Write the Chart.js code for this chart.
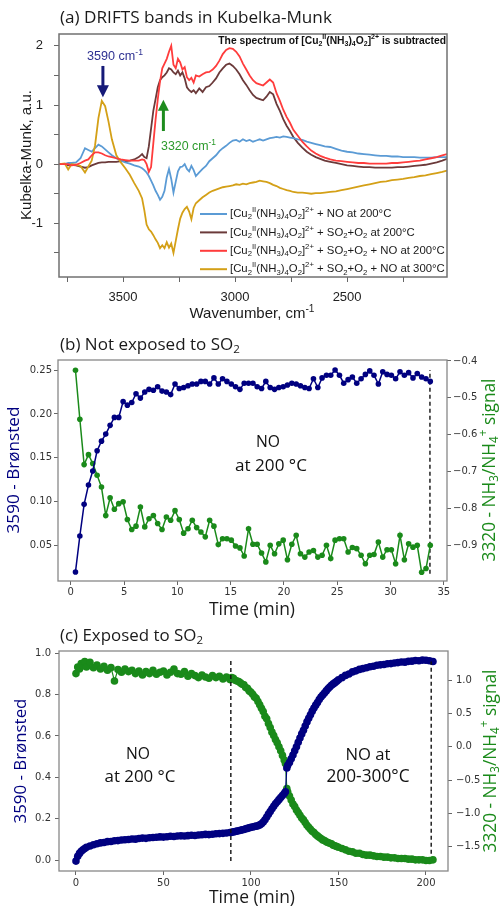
<!DOCTYPE html>
<html><head><meta charset="utf-8">
<script src="https://cdn.jsdelivr.net/npm/chart.js@4.4.1/dist/chart.umd.min.js"></script>
<style>html,body{margin:0;padding:0;background:#fff}#wrap{position:relative;width:500px;height:908px;overflow:hidden;background:#fff}canvas{position:absolute;left:0}</style>
</head><body><div id="wrap">
<canvas id="cA" width="500" height="325" style="top:0;width:500px;height:325px"></canvas>
<canvas id="cB" width="500" height="300" style="top:325px;width:500px;height:300px"></canvas>
<canvas id="cC" width="500" height="283" style="top:625px;width:500px;height:283px"></canvas>
</div>
<script>
// ---------- Panel (a): DRIFTS spectra (Kubelka-Munk) ----------
const wavenumber = [3786,3760,3745,3730,3710,3690,3670,3655,3640,3625,3610,3595,3580,3565,3550,3530,3510,3490,3470,3450,3430,3415,3405,3395,3385,3375,3365,3355,3345,3335,3325,3315,3305,3295,3285,3275,3265,3255,3245,3235,3225,3215,3205,3195,3185,3175,3160,3145,3130,3115,3100,3085,3070,3055,3040,3025,3010,2995,2980,2965,2950,2935,2920,2905,2890,2875,2860,2845,2830,2815,2800,2785,2770,2755,2740,2720,2700,2680,2660,2640,2620,2600,2575,2550,2525,2500,2475,2450,2425,2400,2375,2350,2325,2300,2275,2250,2225,2200,2175,2150,2125,2100,2075,2054];
const kmNO200 = [0.00,0.00,0.02,0.02,0.03,0.10,0.27,0.24,0.21,0.27,0.33,0.30,0.25,0.20,0.15,0.10,0.06,0.03,0.01,-0.02,-0.04,-0.07,-0.10,-0.14,-0.20,-0.28,-0.36,-0.45,-0.52,-0.60,-0.55,-0.45,-0.22,-0.08,-0.25,-0.48,-0.30,-0.12,-0.05,-0.04,0.00,-0.08,-0.12,-0.03,-0.10,-0.20,-0.14,-0.08,-0.03,0.05,0.10,0.15,0.22,0.27,0.31,0.36,0.40,0.41,0.38,0.42,0.39,0.41,0.38,0.40,0.42,0.40,0.42,0.44,0.45,0.46,0.45,0.47,0.46,0.45,0.44,0.42,0.41,0.38,0.36,0.34,0.32,0.30,0.29,0.26,0.23,0.21,0.20,0.18,0.17,0.16,0.15,0.14,0.14,0.13,0.13,0.12,0.12,0.12,0.11,0.11,0.11,0.12,0.12,0.12];
const kmSO2O2_200 = [0.00,0.00,-0.02,-0.01,-0.02,-0.04,-0.06,-0.05,-0.02,0.00,0.02,0.03,0.03,0.04,0.04,0.04,0.05,0.05,0.06,0.08,0.12,0.17,0.12,0.10,0.30,0.60,0.90,1.10,1.30,1.42,1.47,1.50,1.55,1.62,1.60,1.55,1.52,1.58,1.50,1.55,1.45,1.30,1.25,1.22,1.25,1.20,1.28,1.22,1.30,1.32,1.38,1.45,1.55,1.62,1.68,1.70,1.66,1.60,1.52,1.42,1.34,1.25,1.17,1.12,1.10,1.08,1.14,1.22,1.18,1.02,0.90,0.76,0.65,0.56,0.46,0.36,0.28,0.21,0.16,0.12,0.09,0.06,0.04,0.02,0.00,-0.02,-0.03,-0.04,-0.05,-0.05,-0.06,-0.06,-0.06,-0.06,-0.05,-0.05,-0.04,-0.03,-0.02,-0.01,0.01,0.03,0.06,0.09];
const kmSO2O2NO200 = [0.00,0.00,0.00,-0.02,-0.01,0.02,0.06,0.08,0.15,0.20,0.20,0.18,0.15,0.13,0.12,0.10,0.08,0.07,0.06,0.06,0.06,0.08,0.07,0.00,-0.13,-0.05,0.35,0.75,1.10,1.40,1.62,1.70,1.78,1.90,2.00,1.68,1.62,1.78,1.72,1.60,1.64,1.47,1.42,1.46,1.38,1.50,1.48,1.52,1.55,1.56,1.60,1.66,1.75,1.86,1.93,1.96,1.95,1.90,1.82,1.70,1.60,1.50,1.42,1.37,1.35,1.33,1.38,1.43,1.38,1.20,1.07,0.92,0.80,0.70,0.58,0.48,0.38,0.30,0.23,0.18,0.14,0.11,0.08,0.06,0.05,0.04,0.03,0.02,0.02,0.01,0.01,0.01,0.01,0.02,0.02,0.03,0.04,0.05,0.06,0.08,0.10,0.12,0.15,0.17];
const kmSO2O2NO300 = [0.00,0.01,-0.09,0.00,-0.01,-0.03,-0.14,-0.04,0.06,0.32,0.78,1.07,0.98,0.72,0.42,0.15,0.03,-0.07,-0.18,-0.32,-0.45,-0.58,-0.78,-1.02,-1.10,-1.14,-1.20,-1.27,-1.33,-1.42,-1.37,-1.42,-1.32,-1.41,-1.34,-1.50,-1.30,-1.10,-0.92,-0.82,-0.76,-0.72,-0.80,-0.93,-0.74,-0.66,-0.61,-0.56,-0.52,-0.48,-0.45,-0.43,-0.41,-0.39,-0.38,-0.37,-0.36,-0.34,-0.35,-0.33,-0.34,-0.32,-0.31,-0.30,-0.28,-0.29,-0.30,-0.32,-0.35,-0.37,-0.40,-0.42,-0.44,-0.45,-0.47,-0.48,-0.48,-0.49,-0.50,-0.49,-0.49,-0.48,-0.47,-0.46,-0.44,-0.42,-0.40,-0.38,-0.36,-0.34,-0.32,-0.30,-0.29,-0.27,-0.26,-0.25,-0.23,-0.22,-0.20,-0.19,-0.17,-0.15,-0.13,-0.11];
const spectrumLabels = ['[Cu₂ᴵᴵ(NH₃)₄O₂]²⁺ + NO at 200°C','[Cu₂ᴵᴵ(NH₃)₄O₂]²⁺ + SO₂+O₂ at 200°C','[Cu₂ᴵᴵ(NH₃)₄O₂]²⁺ + SO₂+O₂ + NO at 200°C','[Cu₂ᴵᴵ(NH₃)₄O₂]²⁺ + SO₂+O₂ + NO at 300°C'];
const wnTicks = [3750,3500,3250,3000,2750,2500,2250];
const kmTicks = [-1.5,-1,-0.5,0,0.5,1,1.5,2];
const bandMarks = [{wn:3590, from:1.66, to:1.13, label:'3590 cm⁻¹'},{wn:3320, from:0.56, to:1.09, label:'3320 cm⁻¹'}];

// ---------- Panel (b): not exposed to SO2 ----------
const timeB = [0.44,0.85,1.25,1.66,2.06,2.47,2.88,3.28,3.69,4.09,4.50,4.91,5.31,5.72,6.12,6.53,6.94,7.34,7.75,8.15,8.56,8.97,9.37,9.78,10.18,10.59,11.00,11.40,11.81,12.21,12.62,13.03,13.43,13.84,14.24,14.65,15.06,15.46,15.87,16.27,16.68,17.09,17.49,17.90,18.30,18.71,19.12,19.52,19.93,20.33,20.74,21.15,21.55,21.96,22.36,22.77,23.18,23.58,23.99,24.39,24.80,25.21,25.61,26.02,26.42,26.83,27.24,27.64,28.05,28.45,28.86,29.27,29.67,30.08,30.48,30.89,31.30,31.70,32.11,32.51,32.92,33.33,33.73];
const bronstedB = [0.020,0.061,0.097,0.119,0.135,0.158,0.169,0.177,0.187,0.196,0.196,0.214,0.210,0.213,0.223,0.218,0.225,0.228,0.227,0.231,0.226,0.225,0.222,0.234,0.229,0.230,0.232,0.234,0.234,0.237,0.237,0.234,0.241,0.234,0.240,0.237,0.234,0.231,0.228,0.235,0.235,0.235,0.231,0.229,0.237,0.230,0.228,0.230,0.231,0.233,0.235,0.234,0.232,0.230,0.229,0.240,0.230,0.241,0.244,0.244,0.250,0.244,0.235,0.239,0.242,0.235,0.240,0.245,0.249,0.244,0.234,0.248,0.245,0.244,0.240,0.248,0.244,0.247,0.241,0.246,0.242,0.240,0.237];
const nh3B = [-0.425,-0.558,-0.681,-0.654,-0.678,-0.710,-0.742,-0.819,-0.771,-0.802,-0.787,-0.782,-0.830,-0.857,-0.848,-0.796,-0.850,-0.828,-0.819,-0.841,-0.857,-0.823,-0.832,-0.806,-0.830,-0.867,-0.855,-0.832,-0.852,-0.864,-0.877,-0.832,-0.848,-0.898,-0.882,-0.882,-0.886,-0.902,-0.907,-0.929,-0.855,-0.897,-0.897,-0.921,-0.945,-0.900,-0.923,-0.896,-0.886,-0.939,-0.897,-0.873,-0.923,-0.932,-0.918,-0.914,-0.932,-0.927,-0.900,-0.936,-0.886,-0.882,-0.882,-0.918,-0.906,-0.909,-0.927,-0.950,-0.927,-0.925,-0.891,-0.932,-0.912,-0.912,-0.950,-0.873,-0.939,-0.896,-0.905,-0.900,-0.973,-0.963,-0.900];
const endB = 33.7;
const timeTicksB = [0,5,10,15,20,25,30,35];
const bronTicksB = [0.05,0.10,0.15,0.20,0.25];
const nh3TicksB = [-0.9,-0.8,-0.7,-0.6,-0.5,-0.4];

// ---------- Panel (c): exposed to SO2 ----------
const timeC = [0,1,2,3,4,5,6,
  8,10,12,14,16,18,20,22,24,26,28,30,32,34,36,38,40,42,44,46,48,50,52,54,56,58,60,62,64,66,68,70,72,74,76,78,80,82,84,86,
  88,89,90,91,92,93,94,95,96,97,98,99,100,101,102,103,104,105,106,107,108,109,110,111,112,113,114,115,116,117,118,119,
  119.7,120.5,
  121,122,123,124,125,126,127,128,129,130,131,132,133,134,135,136,137,138,139,140,141,142,143,144,145,146,147,148,149,150,
  152,154,156,158,160,162,164,166,168,170,172,174,176,178,180,182,184,186,188,190,192,194,196,198,200,202,204];
const bronstedC = [-0.005,0.018,0.032,0.042,0.050,0.056,0.062,
  0.068,0.074,0.079,0.083,0.085,0.089,0.090,0.093,0.094,0.097,0.098,0.099,0.102,0.101,0.104,0.106,0.105,0.108,0.109,0.110,0.112,0.111,0.113,0.115,0.114,0.116,0.117,0.116,0.118,0.120,0.119,0.121,0.122,0.124,0.123,0.125,0.127,0.128,0.129,0.131,
  0.133,0.134,0.136,0.138,0.140,0.142,0.144,0.146,0.148,0.151,0.153,0.156,0.158,0.160,0.162,0.164,0.166,0.170,0.175,0.184,0.195,0.208,0.222,0.235,0.248,0.260,0.272,0.282,0.292,0.302,0.312,0.322,
  0.330,0.445,
  0.458,0.472,0.490,0.508,0.528,0.548,0.570,0.590,0.610,0.628,0.648,0.668,0.686,0.703,0.720,0.735,0.749,0.762,0.776,0.788,0.798,0.808,0.818,0.828,0.837,0.845,0.852,0.858,0.865,0.872,
  0.882,0.893,0.900,0.910,0.915,0.922,0.926,0.930,0.935,0.937,0.942,0.944,0.946,0.949,0.950,0.953,0.955,0.958,0.957,0.961,0.962,0.965,0.964,0.967,0.966,0.964,0.960];
const nh3C = [1.10,1.20,1.17,1.25,1.22,1.28,1.20,
  1.27,1.19,1.23,1.17,1.21,1.15,1.19,0.99,1.16,1.12,1.17,1.13,1.15,1.10,1.14,1.08,1.13,1.10,1.15,1.09,1.12,1.14,1.08,1.12,1.17,1.10,1.09,1.13,1.06,1.10,1.07,1.04,1.08,1.05,1.03,1.07,1.04,1.06,1.02,1.05,
  1.01,1.04,1.03,1.00,0.99,0.98,0.96,0.94,0.93,0.89,0.88,0.84,0.82,0.79,0.75,0.73,0.68,0.63,0.58,0.53,0.46,0.42,0.35,0.29,0.22,0.17,0.11,0.06,0.00,-0.06,-0.13,-0.20,
  -0.25,-0.63,
  -0.68,-0.74,-0.80,-0.86,-0.90,-0.95,-0.99,-1.03,-1.07,-1.10,-1.14,-1.18,-1.21,-1.24,-1.27,-1.29,-1.32,-1.34,-1.36,-1.38,-1.40,-1.41,-1.43,-1.44,-1.45,-1.46,-1.48,-1.49,-1.50,-1.51,
  -1.53,-1.55,-1.57,-1.58,-1.60,-1.60,-1.62,-1.63,-1.63,-1.64,-1.65,-1.65,-1.66,-1.66,-1.67,-1.67,-1.68,-1.68,-1.68,-1.69,-1.69,-1.70,-1.70,-1.70,-1.71,-1.71,-1.70];
const switchC = 88.5, endC = 203;
const timeTicksC = [0,50,100,150,200];
const bronTicksC = [0,0.2,0.4,0.6,0.8,1.0];
const nh3TicksC = [-1.5,-1,-0.5,0,0.5,1];

// ---------- helpers ----------
const NAVY = '#000080', GREEN = '#1a8a1a';
const SUB={'₀':'0','₁':'1','₂':'2','₃':'3','₄':'4','₅':'5','₆':'6','₇':'7','₈':'8','₉':'9'};
const SUP={'⁰':'0','¹':'1','²':'2','³':'3','⁴':'4','⁵':'5','⁶':'6','⁷':'7','⁸':'8','⁹':'9','⁺':'+','⁻':'-','ᴵ':'I'};
function segs(t){const o=[];for(const ch of t){let k='n',c=ch;if(SUB[ch]){k='b';c=SUB[ch];}else if(SUP[ch]){k='p';c=SUP[ch];}const l=o[o.length-1];if(l&&l.k===k)l.t+=c;else o.push({k:k,t:c});}return o;}
function fnt(it,sz){return (it.weight||'normal')+' '+sz.toFixed(2)+'px "'+(it.fam||'Liberation Sans')+'"';}
function richWidth(ctx,it,sz){let w=0;for(const s of segs(it.t)){ctx.font=fnt(it,s.k==='n'?sz:sz*0.68);w+=ctx.measureText(s.t).width;}return w;}
function fitSize(ctx,it){return it.w?20*it.w/richWidth(ctx,it,20):(it.size||14);}
function drawRich(ctx,it,off,szOverride){
  const sz=szOverride||fitSize(ctx,it);
  const w=richWidth(ctx,it,sz);
  ctx.save(); ctx.translate(it.x,it.y-off); if(it.rot) ctx.rotate(it.rot);
  let cx=it.align==='center'?-w/2:it.align==='right'?-w:0;
  ctx.fillStyle=it.color||'#111'; ctx.textBaseline='middle'; ctx.textAlign='left';
  for(const s of segs(it.t)){const ss=s.k==='n'?sz:sz*0.68; ctx.font=fnt(it,ss);
    const dy=s.k==='b'?sz*0.28:s.k==='p'?-sz*0.34:0; ctx.fillText(s.t,cx,dy); cx+=ctx.measureText(s.t).width;}
  ctx.restore(); return sz;
}
function frame(chart,color,lw){const a=chart.chartArea,c=chart.ctx;c.save();c.strokeStyle=color;c.lineWidth=lw;c.strokeRect(a.left,a.top,a.right-a.left,a.bottom-a.top);c.restore();}
function arrow(ctx,x,yTail,yTip,color,sw,hw,hl){
  const dir=yTip>yTail?1:-1; ctx.save(); ctx.strokeStyle=color; ctx.fillStyle=color; ctx.lineWidth=sw;
  ctx.beginPath(); ctx.moveTo(x,yTail); ctx.lineTo(x,yTip-dir*hl*0.8); ctx.stroke();
  ctx.beginPath(); ctx.moveTo(x,yTip); ctx.lineTo(x-hw/2,yTip-dir*hl); ctx.lineTo(x+hw/2,yTip-dir*hl); ctx.closePath(); ctx.fill(); ctx.restore();
}
const minusFmt=(v,d)=>(v<0?'\u2212':'')+Math.abs(v).toFixed(d);
function setTicks(list){return s=>{s.ticks=list.map(v=>({value:v}));};}
const gridA={drawOnChartArea:false,drawTicks:true,tickLength:5,color:'#666',tickColor:'#666',tickWidth:1};
const gridBC={drawOnChartArea:false,drawTicks:true,tickLength:4,color:'#666',tickColor:'#666',tickWidth:1};
const tickFontA={family:'"Liberation Sans", Arial, sans-serif',size:13};
const tickFontBC={family:'"DejaVu Sans", sans-serif',size:10};
const base={animation:false,responsive:false,maintainAspectRatio:false,plugins:{legend:{display:false},tooltip:{enabled:false}}};

// ---------- Chart A ----------
const specColors=['#5b9bd5','#6b3a3a','#ff3c3c','#d4a017'];
const specValues=[kmNO200,kmSO2O2_200,kmSO2O2NO200,kmSO2O2NO300];
const specOrder=[2,3,0,1];
const textsA=[
  {t:'(a) DRIFTS bands in Kubelka-Munk',x:60,y:18,w:272,fam:'Open Sans',color:'#1a1a1a'},
  {t:'The spectrum of [Cu₂ᴵᴵ(NH₃)₄O₂]²⁺ is subtracted',x:446,y:41,align:'right',w:228,weight:'bold',color:'#111'},
  {t:bandMarks[0].label,x:87,y:57,w:56,color:'#2e3192'},
  {t:bandMarks[1].label,x:161,y:147,w:55,color:'#2a9a2a'},
  {t:'Kubelka-Munk, a.u.',x:27,y:155,align:'center',w:130,rot:-Math.PI/2,color:'#1a1a1a'},
  {t:'Wavenumber, cm⁻¹',x:252,y:314,align:'center',w:125,color:'#1a1a1a'}
];
new Chart(document.getElementById('cA'),{type:'line',
  data:{datasets:spectrumLabels.map((lab,i)=>({label:lab,data:wavenumber.map((w,j)=>({x:w,y:specValues[i][j]})),borderColor:specColors[i],backgroundColor:specColors[i],borderWidth:1.8,pointRadius:0,tension:0,order:specOrder[i]}))},
  options:Object.assign({},base,{
    layout:{padding:{left:0,top:34,right:53,bottom:0}},
    scales:{
      x:{type:'linear',reverse:true,min:2054,max:3786,afterBuildTicks:setTicks(wnTicks),
         ticks:{font:tickFontA,color:'#222',padding:8,autoSkip:false,maxRotation:0,callback:v=>v%500===0?String(v):''},
         grid:gridA,border:{display:false},afterFit:s=>{s.height=48;}},
      y:{type:'linear',min:-1.907,max:2.2,afterBuildTicks:setTicks(kmTicks),
         ticks:{font:tickFontA,color:'#222',padding:11,autoSkip:false,callback:v=>Number.isInteger(v)?String(v):''},
         grid:gridA,border:{display:false},afterFit:s=>{s.width=59;}}
    }}),
  plugins:[{id:'decorA',afterDraw(chart){
    const ctx=chart.ctx,xs=chart.scales.x,ys=chart.scales.y;
    frame(chart,'#707070',1.5);
    textsA.forEach(it=>drawRich(ctx,it,0));
    const a0=bandMarks[0],a1=bandMarks[1];
    arrow(ctx,xs.getPixelForValue(a0.wn),ys.getPixelForValue(a0.from),ys.getPixelForValue(a0.to),'#161a78',3,12,12);
    arrow(ctx,xs.getPixelForValue(a1.wn),ys.getPixelForValue(a1.from),ys.getPixelForValue(a1.to),'#1e8c1e',3,11,11);
    const lsz=fitSize(ctx,{t:spectrumLabels[2],w:215});
    spectrumLabels.forEach((lab,i)=>{const y=214+i*18.4;
      ctx.save();ctx.strokeStyle=specColors[i];ctx.lineWidth=2;ctx.beginPath();ctx.moveTo(200,y);ctx.lineTo(227,y);ctx.stroke();ctx.restore();
      drawRich(ctx,{t:lab,x:230,y:y,color:'#1a1a1a'},0,lsz);});
  }}]
});

// ---------- Chart B ----------
const textsB=[
  {t:'(b) Not exposed to SO₂',x:60,y:345,w:180,fam:'Open Sans',color:'#1a1a1a'},
  {t:'NO',x:268,y:443,align:'center',w:24,fam:'Open Sans',color:'#111'},
  {t:'at 200 °C',x:271,y:466,align:'center',w:72,fam:'Open Sans',color:'#111'},
  {t:'3590 - Brønsted',x:14,y:470,align:'center',w:127,rot:-Math.PI/2,fam:'Open Sans',color:NAVY},
  {t:'3320 - NH₃/NH₄⁺ signal',x:490,y:470,align:'center',w:183,rot:-Math.PI/2,fam:'Open Sans',color:GREEN},
  {t:'Time (min)',x:252,y:610,align:'center',w:86,fam:'Open Sans',color:'#1a1a1a'}
];
new Chart(document.getElementById('cB'),{type:'line',
  data:{datasets:[
    {label:'3590 - Brønsted',data:timeB.map((t,i)=>({x:t,y:bronstedB[i]})),yAxisID:'yL',borderColor:NAVY,backgroundColor:NAVY,borderWidth:1.5,pointRadius:2.8,pointBorderWidth:0,pointBackgroundColor:NAVY},
    {label:'3320 - NH₃/NH₄⁺ signal',data:timeB.map((t,i)=>({x:t,y:nh3B[i]})),yAxisID:'yR',borderColor:GREEN,backgroundColor:GREEN,borderWidth:1.5,pointRadius:2.8,pointBorderWidth:0,pointBackgroundColor:GREEN},
    {label:'end',data:[{x:endB,y:0.018},{x:endB,y:0.25}],yAxisID:'yL',borderColor:'#111',borderWidth:1.4,borderDash:[4,3],pointRadius:0}
  ]},
  options:Object.assign({},base,{
    layout:{padding:{left:0,top:35,right:0,bottom:0}},
    scales:{
      x:{type:'linear',min:-1.2,max:35.3,afterBuildTicks:setTicks(timeTicksB),
         ticks:{font:tickFontBC,color:'#333',padding:1,autoSkip:false,maxRotation:0,callback:v=>String(v)},
         grid:gridBC,border:{display:false},afterFit:s=>{s.height=44;}},
      yL:{type:'linear',position:'left',min:0.0097,max:0.2614,afterBuildTicks:setTicks(bronTicksB),
         ticks:{font:tickFontBC,color:'#333',padding:2,autoSkip:false,callback:v=>v.toFixed(2)},
         grid:gridBC,border:{display:false},afterFit:s=>{s.width=58;}},
      yR:{type:'linear',position:'right',min:-0.9968,max:-0.3973,afterBuildTicks:setTicks(nh3TicksB),
         ticks:{font:tickFontBC,color:'#333',padding:2,autoSkip:false,callback:v=>minusFmt(v,1)},
         grid:gridBC,border:{display:false},afterFit:s=>{s.width=53;}}
    }}),
  plugins:[{id:'decorB',afterDraw(chart){frame(chart,'#888',1.3);textsB.forEach(it=>drawRich(chart.ctx,it,325));}}]
});

// ---------- Chart C ----------
const textsC=[
  {t:'(c) Exposed to SO₂',x:60,y:636,w:143,fam:'Open Sans',color:'#1a1a1a'},
  {t:'NO',x:138,y:755,align:'center',w:24,fam:'Open Sans',color:'#111'},
  {t:'at 200 °C',x:140,y:777,align:'center',w:71,fam:'Open Sans',color:'#111'},
  {t:'NO at',x:368,y:755,align:'center',w:45,fam:'Open Sans',color:'#111'},
  {t:'200-300°C',x:368,y:777,align:'center',w:83,fam:'Open Sans',color:'#111'},
  {t:'3590 - Brønsted',x:21,y:761,align:'center',w:125,rot:-Math.PI/2,fam:'Open Sans',color:NAVY},
  {t:'3320 - NH₃/NH₄⁺ signal',x:491,y:761,align:'center',w:183,rot:-Math.PI/2,fam:'Open Sans',color:GREEN},
  {t:'Time (min)',x:252,y:898,align:'center',w:86,fam:'Open Sans',color:'#1a1a1a'}
];
new Chart(document.getElementById('cC'),{type:'line',
  data:{datasets:[
    {label:'switch',data:[{x:switchC,y:-0.005},{x:switchC,y:0.97}],yAxisID:'yL',borderColor:'#111',borderWidth:1.4,borderDash:[4,3],pointRadius:0},
    {label:'end',data:[{x:endC,y:0.03},{x:endC,y:0.96}],yAxisID:'yL',borderColor:'#111',borderWidth:1.4,borderDash:[4,3],pointRadius:0},
    {label:'3590 - Brønsted',data:timeC.map((t,i)=>({x:t,y:bronstedC[i]})),yAxisID:'yL',borderColor:NAVY,backgroundColor:NAVY,borderWidth:1.2,pointRadius:3.8,pointBorderWidth:0,pointBackgroundColor:NAVY},
    {label:'3320 - NH₃/NH₄⁺ signal',data:timeC.map((t,i)=>({x:t,y:nh3C[i]})),yAxisID:'yR',borderColor:GREEN,backgroundColor:GREEN,borderWidth:1.2,pointRadius:3.8,pointBorderWidth:0,pointBackgroundColor:GREEN}
  ]},
  options:Object.assign({},base,{
    layout:{padding:{left:0,top:26,right:0,bottom:0}},
    scales:{
      x:{type:'linear',min:-9.7,max:212.6,afterBuildTicks:setTicks(timeTicksC),
         ticks:{font:tickFontBC,color:'#333',padding:2,autoSkip:false,maxRotation:0,callback:v=>String(v)},
         grid:gridBC,border:{display:false},afterFit:s=>{s.height=37;}},
      yL:{type:'linear',position:'left',min:-0.053,max:1.011,afterBuildTicks:setTicks(bronTicksC),
         ticks:{font:tickFontBC,color:'#333',padding:4,autoSkip:false,callback:v=>v.toFixed(1)},
         grid:gridBC,border:{display:false},afterFit:s=>{s.width=59;}},
      yR:{type:'linear',position:'right',min:-1.868,max:1.44,afterBuildTicks:setTicks(nh3TicksC),
         ticks:{font:tickFontBC,color:'#333',padding:4,autoSkip:false,callback:v=>minusFmt(v,1)},
         grid:gridBC,border:{display:false},afterFit:s=>{s.width=52;}}
    }}),
  plugins:[{id:'decorC',afterDraw(chart){frame(chart,'#888',1.3);textsC.forEach(it=>drawRich(chart.ctx,it,625));}}]
});
</script></body></html>
